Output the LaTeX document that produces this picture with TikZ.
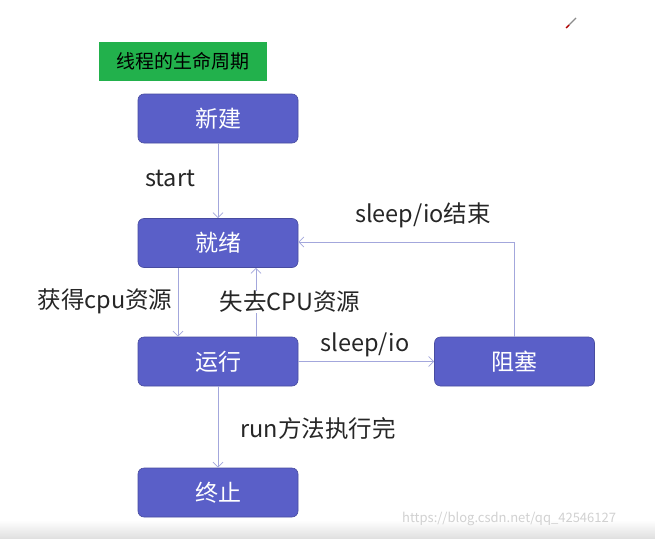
\documentclass[tikz,border=0pt]{standalone}
\usepackage{fontspec}
\setmainfont{Noto Sans CJK SC}
\usetikzlibrary{arrows.meta,shadings}
\definecolor{boxblue}{HTML}{5A5FC8}
\definecolor{titlegreen}{HTML}{22B14C}
\definecolor{arrowc}{HTML}{A3A7DC}
\begin{document}
\begin{tikzpicture}[x=1pt,y=-1pt,
  state/.style={draw=boxblue!80!black, line width=0.6pt, fill=boxblue, rounded corners=6pt,
    minimum width=160pt, minimum height=49pt, text=white, font=\fontsize{23}{26}\selectfont, inner sep=0pt},
  conn/.style={draw=arrowc, line width=0.8pt, -{Straight Barb[length=5pt,width=10pt]}},
  lbl/.style={font=\fontsize{23.5}{26}\selectfont, text=black!85, inner sep=1pt}]
\useasboundingbox (0,0) rectangle (655,538);
\fill[white] (0,0) rectangle (655,538);
\shade[top color=white, bottom color=black!12] (0,520) rectangle (655,538);
% title
\node[fill=titlegreen, minimum width=168pt, minimum height=39pt, inner sep=0pt,
  font=\fontsize{19}{22}\selectfont] (title) at (183,61.5) {线程的生命周期};
% states
\node[state] (new) at (218,118.5) {新建};
\node[state] (ready) at (218,243) {就绪};
\node[state] (run) at (218,361.5) {运行};
\node[state] (block) at (514.5,361.5) {阻塞};
\node[state] (dead) at (218,492.5) {终止};
% connectors
\draw[conn] (new) -- (ready);
\draw[conn] (ready.south -| 178,0) -- (run.north -| 178,0);
\draw[conn] (run.north -| 256,0) -- (ready.south -| 256,0);
\draw[conn] (run) -- (block);
\draw[conn] (block.north) |- (ready.east |- 0,242);
\draw[conn] (run) -- (dead);
% labels
\node[lbl] (lstart) at (170,178) {start};
\node[lbl] (lget) at (105,301) {获得cpu资源};
\node[lbl, fill=white, inner sep=0pt] (llose) at (290,302) {失去CPU资源};
\node[lbl] (lsleep) at (365,345) {sleep/io};
\node[lbl] (lend) at (423,215) {sleep/io结束};
\node[lbl] (lrun) at (318,428) {run方法执行完};
% watermark
\node[font=\fontsize{13}{15}\selectfont, text=black!18, anchor=west, inner sep=0pt] (wm) at (402,519) {https://blog.csdn.net/qq\_42546127};
% pencil icon
\draw[black!45, line width=1.2pt] (576,18) -- (569,25);
\draw[red!70!black, line width=1.4pt] (569,25) -- (566,28);
\end{tikzpicture}
\end{document}
